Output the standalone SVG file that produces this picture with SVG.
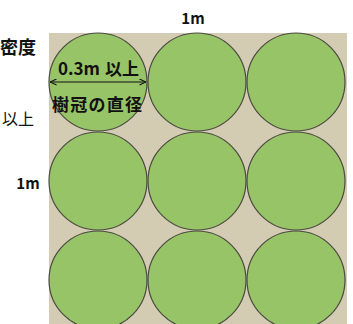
<svg xmlns="http://www.w3.org/2000/svg" width="353" height="324" viewBox="0 0 353 324">
<defs>
<style>
.t{font-family:"Noto Sans CJK JP","Noto Sans",sans-serif;fill:#111;}
.b{font-weight:bold;}
.c{fill:#98c468;stroke:#4a4a40;stroke-width:1.2;}
</style>
<marker id="ah" viewBox="0 0 8 8" refX="7.5" refY="4" markerWidth="7" markerHeight="7" orient="auto-start-reverse" markerUnits="userSpaceOnUse">
<path d="M0,0.5 L7.5,4 L0,7.5" fill="none" stroke="#111" stroke-width="1.2"/>
</marker>
</defs>
<rect width="353" height="324" fill="#fff"/>
<g id="ground"><rect x="49" y="33" width="298" height="291" fill="#d3cbb2"/></g>
<g id="trees">
<circle id="tree1" class="c" cx="98" cy="82" r="49"/>
<circle id="tree2" class="c" cx="197" cy="82" r="49"/>
<circle id="tree3" class="c" cx="296" cy="82" r="49"/>
<circle id="tree4" class="c" cx="98" cy="181" r="49"/>
<circle id="tree5" class="c" cx="197" cy="181" r="49"/>
<circle id="tree6" class="c" cx="296" cy="181" r="49"/>
<circle id="tree7" class="c" cx="98" cy="280" r="49"/>
<circle id="tree8" class="c" cx="197" cy="280" r="49"/>
<circle id="tree9" class="c" cx="296" cy="280" r="49"/>
</g>
<g id="connectors">
<line x1="50" y1="82" x2="146" y2="82" stroke="#111" stroke-width="1.2" marker-start="url(#ah)" marker-end="url(#ah)"/>
</g>
<g id="labels">
<text class="t b" x="0" y="54" font-size="18">密度</text>
<text class="t" x="34" y="125" font-size="16" text-anchor="end">以上</text>
<text class="t b" x="193" y="24" font-size="15" text-anchor="middle">1m</text>
<text class="t b" x="28" y="189" font-size="15" text-anchor="middle">1m</text>
<text class="t b" y="75" font-size="17"><tspan x="58">0.3m</tspan><tspan x="105">以上</tspan></text>
<text class="t b" x="52" y="111" font-size="17" textLength="90" lengthAdjust="spacing">樹冠の直径</text>
</g>
</svg>
